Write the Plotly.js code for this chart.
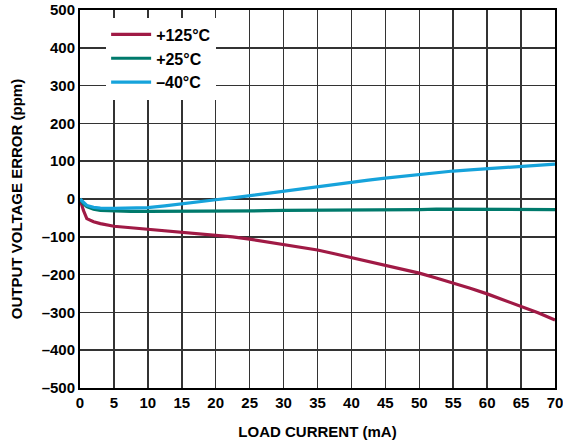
<!DOCTYPE html>
<html><head><meta charset="utf-8">
<script src="https://cdn.plot.ly/plotly-3.0.1.min.js"></script>
<style>body{margin:0;background:#fff}#chart{width:563px;height:446px}</style>
</head><body><div id="chart"></div>
<script>
const loadCurrent = [0, 0.5, 1, 2, 3, 5, 7.5, 10, 12.5, 15, 17.5, 20, 22.5, 25, 27.5, 30, 32.5, 35, 37.5, 40, 42.5, 45, 47.5, 50, 52.5, 55, 57.5, 60, 62.5, 65, 67.5, 70];
const err125 = [0, -30, -52, -60, -65, -72, -76, -80, -84, -87, -91, -95, -100, -106, -113, -120, -127, -135, -145, -155, -165, -175, -185, -196, -209, -222, -236, -251, -267, -284, -301, -320];
const err25  = [0, -12, -20, -27, -30, -32, -33, -33, -33, -32, -32, -32, -32, -31, -31, -30, -30, -30, -29, -29, -29, -28, -28, -28, -27, -27, -27, -27, -27, -27, -28, -28];
const errM40 = [0, -10, -17, -22, -24, -25, -25, -23, -18, -12, -7, -2, 3, 9, 15, 21, 28, 34, 40, 45, 50, 55, 60, 65, 70, 74, 77, 80, 82, 85, 88, 92];
const seriesNames = ['+125°C', '+25°C', '–40°C'];
const seriesColors = ['#A01A45', '#007A6C', '#16A3DB'];
const xTicks = [0,5,10,15,20,25,30,35,40,45,50,55,60,65,70];
const yTicks = [-500,-400,-300,-200,-100,0,100,200,300,400,500];
const yTickText = yTicks.map(v => v < 0 ? '–' + Math.abs(v) : String(v));

const ys = [err125, err25, errM40];
const traces = ys.map((y, i) => ({
  x: loadCurrent, y: y, type: 'scatter', mode: 'lines', name: seriesNames[i],
  line: {color: seriesColors[i], width: 3.2}
}));

const font = {family: 'Liberation Sans, Arial, sans-serif', size: 15, color: '#000', weight: 'bold'};
const layout = {
  width: 563, height: 446,
  margin: {l: 80, r: 8, t: 10, b: 58},
  paper_bgcolor: '#fff', plot_bgcolor: '#fff',
  font: font,
  showlegend: true,
  legend: {x: 0.055, y: 0.98, xanchor: 'left', yanchor: 'top', bgcolor: '#fff', borderwidth: 0,
    font: {family: font.family, size: 16, color: '#000', weight: 'bold'}, tracegroupgap: 0, itemwidth: 40},
  xaxis: {range: [0, 70], tickvals: xTicks, ticktext: xTicks.map(String), showgrid: true,
    gridcolor: '#333', gridwidth: 1.5, zeroline: false, showline: true, linecolor: '#000', linewidth: 2, mirror: true,
    ticks: '', tickfont: font, ticklabeloverflow: 'allow',
    title: {text: 'LOAD CURRENT (mA)', font: font, standoff: 16}},
  yaxis: {range: [-500, 500], tickvals: yTicks, ticktext: yTickText, showgrid: true,
    gridcolor: '#333', gridwidth: 1.5, zeroline: false, showline: true, linecolor: '#000', linewidth: 2, mirror: true,
    ticks: '', tickfont: font,
    title: {text: 'OUTPUT VOLTAGE ERROR (ppm)', font: font, standoff: 15}}
};
Plotly.newPlot('chart', traces, layout, {displayModeBar: false, staticPlot: true});
</script></body></html>
